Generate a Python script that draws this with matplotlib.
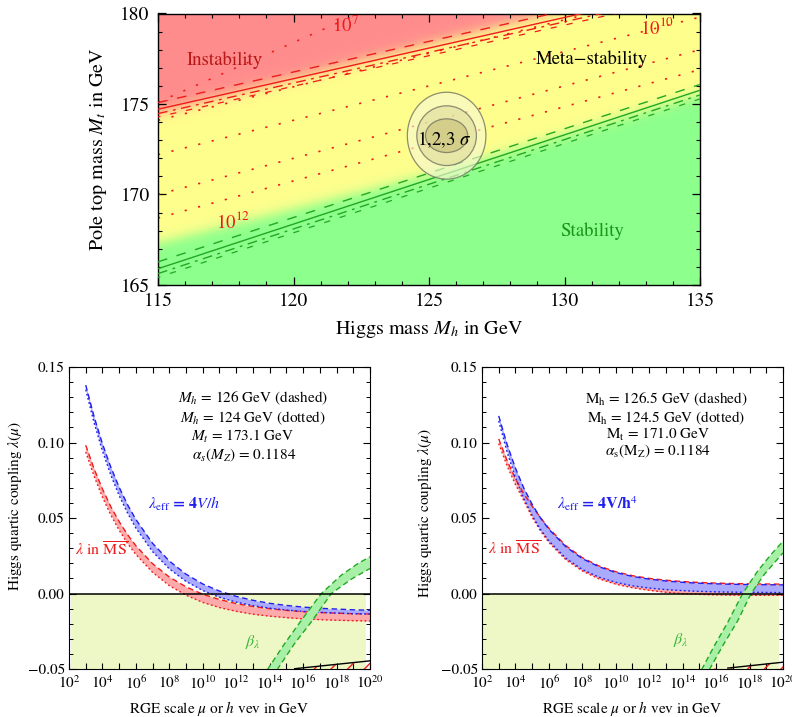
import numpy as np
import matplotlib
matplotlib.use("Agg")
import matplotlib.pyplot as plt
from matplotlib.patches import Ellipse
from matplotlib.ticker import NullFormatter

plt.rcParams['font.family'] = ['STIXGeneral', 'DejaVu Serif']
plt.rcParams['mathtext.fontset'] = 'stix'

# ================= TOP PANEL DATA =================
mh_lim = [115, 135]
mt_lim = [165, 180]
mh_ticks = [115, 120, 125, 130, 135]
mt_ticks = [165, 170, 175, 180]

# centre of colour transitions
bound_mh = [115, 125, 135]
red_bound_mt = [174.5, 178.3, 182.1]
green_bound_mt = [167.3, 171.06, 175.5]

# boundary lines (Mt at Mh = 115 and 135)
line_mh = [115, 135]
inst_solid = [174.71, 181.47]
inst_upper = [175.08, 181.84]
inst_lower = [174.47, 181.23]
inst_lower2 = [174.29, 181.05]
stab_solid = [165.90, 175.76]
stab_upper = [166.28, 176.08]
stab_lower = [165.63, 175.50]
stab_lower2 = [165.42, 175.28]

# instability-scale dotted contours (Mt at 115 and 135)
dot_mt_115 = [175.1, 174.1, 172.2, 170.0, 168.7]
dot_mt_135 = [188.3, 181.5, 179.8, 178.0, 176.9]

# experimental fit contours
fit_center = [125.65, 173.25]
fit_half_mh = [1.45, 1.10, 0.78]
fit_half_mt = [2.40, 1.65, 0.93]

# ================= BOTTOM PANELS DATA =================
t_grid = [3, 3.5, 4, 4.5, 5, 5.5, 6, 7, 8, 9, 10, 11, 12, 13, 14, 15, 16, 17, 18, 19, 20]

L_blue_dash = [0.1380, 0.1171, 0.0991, 0.0837, 0.0703, 0.0588, 0.0490, 0.0332, 0.0215, 0.0128, 0.0063,
               0.0016, -0.0019, -0.0045, -0.0065, -0.0079, -0.0090, -0.0098, -0.0103, -0.0108, -0.0111]
L_blue_dot = [0.1350, 0.1131, 0.0944, 0.0784, 0.0648, 0.0533, 0.0433, 0.0277, 0.0163, 0.0080, 0.0020,
              -0.0025, -0.0057, -0.0080, -0.0097, -0.0110, -0.0119, -0.0125, -0.0130, -0.0134, -0.0136]
L_red_dash = [0.0982, 0.0826, 0.0692, 0.0575, 0.0476, 0.0390, 0.0316, 0.0197, 0.0109, 0.0044, -0.0005,
              -0.0040, -0.0067, -0.0086, -0.0101, -0.0112, -0.0120, -0.0126, -0.0130, -0.0134, -0.0136]
L_red_dot = [0.0938, 0.0777, 0.0638, 0.0520, 0.0419, 0.0332, 0.0258, 0.0140, 0.0052, -0.0011, -0.0059,
             -0.0093, -0.0118, -0.0137, -0.0150, -0.0160, -0.0168, -0.0173, -0.0177, -0.0180, -0.0182]

R_blue_dash = [0.1176, 0.0987, 0.0830, 0.0698, 0.0590, 0.0500, 0.0425, 0.0311, 0.0231, 0.0177, 0.0139,
               0.0113, 0.0095, 0.0083, 0.0074, 0.0068, 0.0064, 0.0061, 0.0059, 0.0058, 0.0057]
R_blue_dot = [0.1143, 0.0937, 0.0767, 0.0630, 0.0516, 0.0424, 0.0348, 0.0235, 0.0159, 0.0108, 0.0074,
              0.0051, 0.0036, 0.0026, 0.0019, 0.0014, 0.0011, 0.0009, 0.0008, 0.0007, 0.0006]
R_red_dash = [0.1024, 0.0880, 0.0760, 0.0660, 0.0578, 0.0502, 0.0432, 0.0318, 0.0237, 0.0182, 0.0144,
              0.0118, 0.0100, 0.0088, 0.0079, 0.0073, 0.0069, 0.0066, 0.0064, 0.0063, 0.0062]
R_red_dot = [0.0993, 0.0845, 0.0722, 0.0615, 0.0505, 0.0414, 0.0338, 0.0225, 0.0149, 0.0097, 0.0062,
             0.0038, 0.0021, 0.0008, -0.0001, -0.0006, -0.0009, -0.0011, -0.0012, -0.0012, -0.0012]

L_beta_up_t = [13.86, 14.9, 15.9, 17.09, 18.28, 19.28, 20.0]
L_beta_up = [-0.0505, -0.0331, -0.0177, 0.0, 0.0121, 0.0199, 0.0243]
L_beta_dn_t = [14.44, 15.49, 16.49, 17.69, 18.88, 20.0]
L_beta_dn = [-0.0505, -0.0331, -0.0188, 0.0, 0.0095, 0.0166]

R_beta_up_t = [15.13, 15.89, 16.69, 17.59, 18.48, 19.28, 20.0]
R_beta_up = [-0.0505, -0.0347, -0.0192, 0.0, 0.0148, 0.0258, 0.0346]
R_beta_dn_t = [15.59, 16.39, 17.29, 18.09, 18.88, 19.48, 20.0]
R_beta_dn = [-0.0505, -0.0347, -0.0181, 0.0, 0.0126, 0.0203, 0.0269]

L_hatch_t = [15.5, 20.0]
L_hatch_lam = [-0.0498, -0.0446]
R_hatch_t = [16.7, 20.0]
R_hatch_lam = [-0.0494, -0.0455]
R_hatch_start = 14.9

L_meta_t = [2.14, 19.76]
R_meta_t = [2.05, 19.77]

L_notes = [r"$M_h$ = 126 GeV (dashed)", r"$M_h$ = 124 GeV (dotted)",
           r"$M_t$ = 173.1 GeV", r"$\alpha_s(M_Z)$ = 0.1184"]
R_notes = [r"M$_{\rm h}$ = 126.5 GeV (dashed)", r"M$_{\rm h}$ = 124.5 GeV (dotted)",
           r"M$_{\rm t}$ = 171.0 GeV", r"$\alpha_{\rm s}$(M$_{\rm Z}$) = 0.1184"]
L_notes_pos = [(13.0, 0.129), (13.0, 0.116), (12.4, 0.1037), (12.5, 0.0916)]
R_notes_pos = [(13.0, 0.1285), (13.0, 0.1163), (12.5, 0.1053), (12.5, 0.0943)]

RED = '#ee1c1c'
BLUE = '#2020ee'
GREEN = '#22a822'

fig = plt.figure(figsize=(7.92, 7.17), dpi=100)

# ================= TOP PANEL =================
ax = fig.add_axes([158 / 792, 1 - 285 / 717, 542 / 792, 271.5 / 717])
mh = np.linspace(mh_lim[0], mh_lim[1], 800)
mt = np.linspace(mt_lim[0], mt_lim[1], 600)
MH, MT = np.meshgrid(mh, mt)
rb = np.interp(MH, bound_mh, red_bound_mt)
gb = np.interp(MH, bound_mh, green_bound_mt)
w = 0.2
tr = 1 / (1 + np.exp(-(MT - rb) / w))
tg = 1 / (1 + np.exp(-(gb - MT) / w))
yel = np.array([1.0, 1.0, 0.55])
redc = np.array([1.0, 0.55, 0.55])
grc = np.array([0.55, 1.0, 0.55])
ty = np.clip(1 - tr - tg, 0, 1)
img = ty[..., None] * yel + tr[..., None] * redc + tg[..., None] * grc
ax.imshow(np.clip(img, 0, 1), extent=[mh_lim[0], mh_lim[1], mt_lim[0], mt_lim[1]],
          origin='lower', aspect='auto', interpolation='bilinear', zorder=0)

# dotted instability-scale lines
for a, b in zip(dot_mt_115, dot_mt_135):
    ax.plot(line_mh, [a, b], color=RED, lw=1.2, ls=(0, (1.3, 7.0)), zorder=2)

# boundaries
ax.plot(line_mh, inst_solid, color=RED, lw=1.0, zorder=3)
ax.plot(line_mh, inst_upper, color=RED, lw=1.0, ls=(0, (7, 7)), zorder=3)
ax.plot(line_mh, inst_lower, color=RED, lw=1.0, ls=(0, (7, 4, 2, 4)), zorder=3)
ax.plot(line_mh, inst_lower2, color=RED, lw=0.9, ls=(3, (5, 8)), zorder=3)
ax.plot(line_mh, stab_solid, color=GREEN, lw=1.0, zorder=3)
ax.plot(line_mh, stab_upper, color=GREEN, lw=1.0, ls=(0, (7, 7)), zorder=3)
ax.plot(line_mh, stab_lower, color=GREEN, lw=1.0, ls=(0, (7, 4, 2, 4)), zorder=3)
ax.plot(line_mh, stab_lower2, color=GREEN, lw=0.9, ls=(3, (5, 8)), zorder=3)

# fit contours
fills = [((0.97, 0.97, 0.82), 0.65), ((0.86, 0.85, 0.6), 0.55), ((0.76, 0.74, 0.45), 0.55)]
for (hx, hy, (fc, al)) in zip(fit_half_mh, fit_half_mt, fills):
    e = Ellipse(fit_center, 2 * hx, 2 * hy, facecolor=fc, alpha=al, edgecolor='none', zorder=4)
    ax.add_patch(e)
    e2 = Ellipse(fit_center, 2 * hx, 2 * hy, facecolor='none', edgecolor=(0.45, 0.45, 0.38),
                 lw=0.9, alpha=0.8, zorder=4)
    ax.add_patch(e2)

ax.text(125.55, 173.05, r"1,2,3 $\sigma$", fontsize=13.5, ha='center', va='center', zorder=6)
ax.text(117.45, 177.4, "Instability", color='#b81818', fontsize=13.5, ha='center', va='center', zorder=6)
ax.text(131.0, 177.45, "Meta\u2212stability", color='black', fontsize=13.5, ha='center', va='center', zorder=6)
ax.text(131.0, 168.0, "Stability", color='#1a961a', fontsize=13.5, ha='center', va='center', zorder=6)
ax.text(121.9, 179.3, r"$10^7$", color=RED, fontsize=13.5, ha='center', va='center', zorder=6)
ax.text(133.4, 179.25, r"$10^{10}$", color=RED, fontsize=13.5, ha='center', va='center', zorder=6)
ax.text(117.75, 168.5, r"$10^{12}$", color=RED, fontsize=13.5, ha='center', va='center', zorder=6)

ax.set_xlim(mh_lim)
ax.set_ylim(mt_lim)
ax.set_xticks(mh_ticks)
ax.set_yticks(mt_ticks)
ax.set_xticks(np.arange(115, 136, 1), minor=True)
ax.set_yticks(np.arange(165, 181, 1), minor=True)
ax.tick_params(which='both', direction='in', top=True, right=True, labelsize=14)
ax.tick_params(which='major', length=6, width=0.9, pad=6)
ax.tick_params(which='minor', length=3.2, width=0.8)
ax.set_xlabel(r"Higgs mass $M_h$ in GeV", fontsize=14.5)
ax.set_ylabel(r"Pole top mass $M_t$ in GeV", fontsize=14.5)
ax.xaxis.set_label_coords(0.5, -0.125)
ax.yaxis.set_label_coords(-0.09, 0.5)
for s in ax.spines.values():
    s.set_linewidth(1.0)


# ================= BOTTOM PANELS =================
def panel(rect, bd, bdt, rd, rdt, bu_t, bu, bl_t, bl, h_t, h_l, h_start, meta_t,
          notes, notes_pos, eff_label, eff_pos, ms_pos, beta_pos, ylab_coords):
    a = fig.add_axes(rect)
    mu = 10.0 ** np.array(t_grid)
    a.fill_between([10 ** meta_t[0], 10 ** meta_t[1]], [-0.05, -0.05], [0, 0],
                   color='#eef8c6', lw=0, zorder=0)
    a.fill_between(mu, rdt, rd, color='#ffaaaa', lw=0, zorder=1)
    a.fill_between(mu, bdt, bd, color='#aaaaff', lw=0, zorder=2)
    a.plot(mu, rd, color=RED, lw=1.0, ls=(0, (4, 2.5)), zorder=3)
    a.plot(mu, rdt, color=RED, lw=1.0, ls=(0, (1.3, 1.8)), zorder=3)
    a.plot(mu, bd, color=BLUE, lw=1.0, ls=(0, (4, 2.5)), zorder=4)
    a.plot(mu, bdt, color=BLUE, lw=1.0, ls=(0, (1.3, 1.8)), zorder=4)
    # beta band
    xs = np.concatenate([10.0 ** np.array(bu_t), 10.0 ** np.array(bl_t)[::-1]])
    ys = np.concatenate([bu, bl[::-1]])
    a.fill(xs, ys, color='#a8f0a8', lw=0, zorder=5)
    a.plot(10.0 ** np.array(bu_t), bu, color=GREEN, lw=1.0, ls=(0, (4, 2.5)), zorder=6)
    a.plot(10.0 ** np.array(bl_t), bl, color=GREEN, lw=1.0, ls=(0, (4, 2.5)), zorder=6)
    # hatch region
    hx = 10.0 ** np.array([h_start] + list(h_t))
    hy = [-0.05] + list(h_l)
    a.fill_between(hx, [-0.05] * len(hx), hy, facecolor='none', edgecolor=RED,
                   hatch='//', lw=0, zorder=5)
    a.plot(10.0 ** np.array(h_t), h_l, color='black', lw=1.0, zorder=6)
    a.axhline(0, color='black', lw=1.1, zorder=7)
    for txt, (tt, ll) in zip(notes, notes_pos):
        a.text(10 ** tt, ll, txt, fontsize=11, ha='center', va='center', zorder=8)
    a.text(10 ** eff_pos[0], eff_pos[1], eff_label, color=BLUE, fontsize=11.5,
           ha='center', va='center', fontweight='bold', zorder=8)
    a.text(10 ** ms_pos[0], ms_pos[1], r"$\lambda$ in $\overline{\rm MS}$", color=RED,
           fontsize=11.5, ha='center', va='center', zorder=8)
    a.text(10 ** beta_pos[0], beta_pos[1], r"$\beta_\lambda$", color='#3cb83c',
           fontsize=11.5, ha='center', va='center', zorder=8)
    a.set_xscale('log')
    a.set_xlim(1e2, 1e20)
    a.set_ylim(-0.05, 0.15)
    a.set_xticks([10.0 ** k for k in range(2, 21, 2)])
    a.set_xticklabels([r"$10^{%d}$" % k for k in range(2, 21, 2)])
    a.set_xticks([10.0 ** k for k in range(3, 20, 2)], minor=True)
    a.xaxis.set_minor_formatter(NullFormatter())
    a.set_yticks([-0.05, 0.0, 0.05, 0.10, 0.15])
    a.set_yticklabels(["\u22120.05", "0.00", "0.05", "0.10", "0.15"])
    a.set_yticks(np.arange(-0.05, 0.1501, 0.01), minor=True)
    a.yaxis.set_minor_formatter(NullFormatter())
    a.tick_params(which='both', direction='in', top=True, right=True, labelsize=11)
    a.tick_params(axis='x', which='both', length=4.5, width=0.8, pad=4)
    a.tick_params(axis='y', which='major', length=5, width=0.8, pad=3)
    a.tick_params(axis='y', which='minor', length=3, width=0.7)
    a.set_xlabel(r"RGE scale $\mu$ or $h$ vev in GeV", fontsize=11)
    a.set_ylabel(r"Higgs quartic coupling $\lambda(\mu)$", fontsize=11)
    a.xaxis.set_label_coords(0.5, -0.1)
    a.yaxis.set_label_coords(*ylab_coords)
    return a


panel([69 / 792, 1 - 669 / 717, 301 / 792, 302 / 717],
      L_blue_dash, L_blue_dot, L_red_dash, L_red_dot,
      L_beta_up_t, L_beta_up, L_beta_dn_t, L_beta_dn,
      L_hatch_t, L_hatch_lam, L_hatch_t[0], L_meta_t,
      L_notes, L_notes_pos, r"$\lambda_{\rm eff}$ = 4$V/h$", (8.92, 0.0592),
      (3.93, 0.0291), (13.0, -0.032), (-0.15, 0.54))

panel([482 / 792, 1 - 669 / 717, 301 / 792, 302 / 717],
      R_blue_dash, R_blue_dot, R_red_dash, R_red_dot,
      R_beta_up_t, R_beta_up, R_beta_dn_t, R_beta_dn,
      R_hatch_t, R_hatch_lam, R_hatch_start, R_meta_t,
      R_notes, R_notes_pos, r"$\lambda_{\rm eff}$ = 4V/h$^4$", (8.9, 0.0598),
      (3.93, 0.0296), (13.9, -0.031), (-0.16, 0.517))

fig.savefig("out.png", dpi=100)
